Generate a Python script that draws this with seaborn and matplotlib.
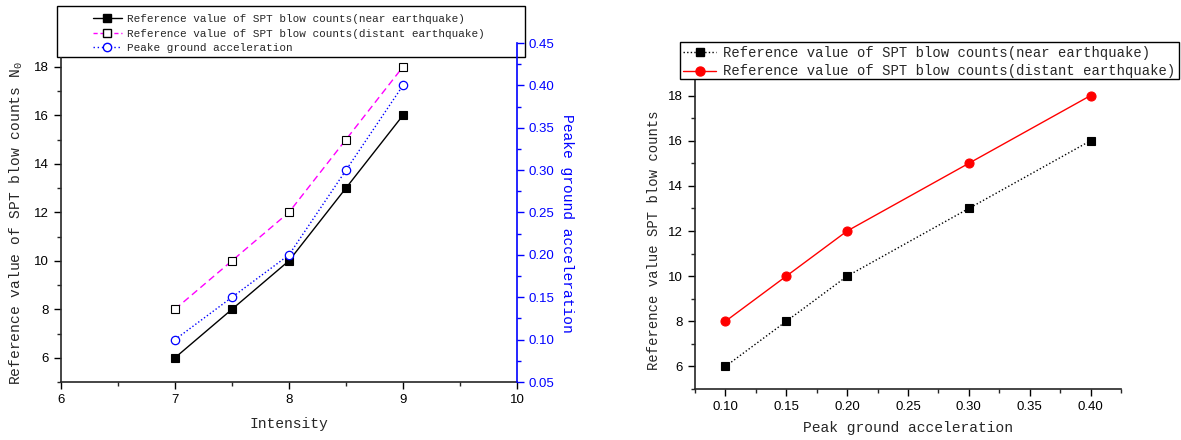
import matplotlib
matplotlib.use("Agg")
import matplotlib.pyplot as plt
import seaborn as sns
from matplotlib.ticker import MultipleLocator, FormatStrFormatter
from matplotlib.lines import Line2D
from matplotlib.patches import Rectangle

# ---- data ----
intensity = [7, 7.5, 8, 8.5, 9]
near_counts = [6, 8, 10, 13, 16]
distant_counts = [8, 10, 12, 15, 18]
pga = [0.10, 0.15, 0.20, 0.30, 0.40]

lbl_near = "Reference value of SPT blow counts(near earthquake)"
lbl_dist = "Reference value of SPT blow counts(distant earthquake)"
lbl_pga = "Peake ground acceleration"

sns.set_style("ticks")
plt.rcParams['font.family'] = ['Liberation Sans', 'DejaVu Sans']
plt.rcParams['mathtext.fontset'] = 'custom'
plt.rcParams['mathtext.rm'] = 'Liberation Mono'
plt.rcParams['mathtext.it'] = 'Liberation Mono'
MONO = ['Liberation Mono', 'DejaVu Sans Mono']

W, H = 1181, 440
fig = plt.figure(figsize=(W / 100, H / 100), dpi=100)

def frac(l, r, t, b):
    return [l / W, 1 - b / H, (r - l) / W, (b - t) / H]

DASH = (0, (5, 3))
DOT = (0, (1, 1.6))

# legend frame of left chart (drawn behind the axes)
fig.patches.append(Rectangle((57 / W, 1 - 57 / H), (525 - 57) / W, (57 - 6) / H,
                             transform=fig.transFigure, facecolor='white',
                             edgecolor='black', lw=1.0, zorder=-1))

# ---------------- left chart ----------------
ax1 = fig.add_axes(frac(61, 517, 43, 382))
ax1.set_facecolor('none')
ax2 = ax1.twinx()

sns.lineplot(x=intensity, y=near_counts, ax=ax1, color='black', lw=1.0,
             marker='s', markersize=6, markerfacecolor='black',
             markeredgecolor='black', markeredgewidth=0.8)
sns.lineplot(x=intensity, y=distant_counts, ax=ax1, color='#FF00FF', lw=1.0,
             linestyle=DASH, marker='s', markersize=5.5,
             markerfacecolor='white', markeredgecolor='black', markeredgewidth=0.8)
sns.lineplot(x=intensity, y=pga, ax=ax2, color='#0000FF', lw=1.0,
             linestyle=DOT, marker='o', markersize=6,
             markerfacecolor='white', markeredgecolor='#0000FF', markeredgewidth=0.9)

ax1.set_xlim(6, 10)
ax1.set_ylim(5, 18.98)
ax2.set_ylim(0.05, 0.45)
ax1.xaxis.set_major_locator(MultipleLocator(1))
ax1.xaxis.set_minor_locator(MultipleLocator(0.5))
ax1.yaxis.set_major_locator(MultipleLocator(2))
ax1.yaxis.set_minor_locator(MultipleLocator(1))
ax2.yaxis.set_major_locator(MultipleLocator(0.05))
ax2.yaxis.set_minor_locator(MultipleLocator(0.025))
ax2.yaxis.set_major_formatter(FormatStrFormatter('%.2f'))

for a in (ax1, ax2):
    a.spines['top'].set_visible(False)
    for s in a.spines.values():
        s.set_linewidth(1.2)
ax1.spines['right'].set_visible(False)
ax1.spines['left'].set_bounds(5, 18.37)
ax2.spines['left'].set_visible(False)
ax2.spines['bottom'].set_visible(False)
ax2.spines['right'].set_color('#0000FF')

ax1.tick_params(axis='both', which='major', direction='out', length=5, width=1,
                labelsize=9.5, colors='black')
ax1.tick_params(axis='both', which='minor', direction='out', length=3, width=1)
ax2.tick_params(axis='y', which='major', direction='out', length=5, width=1,
                labelsize=9.5, colors='#0000FF')
ax2.tick_params(axis='y', which='minor', direction='out', length=3, width=1,
                colors='#0000FF')

ax1.set_xlabel("Intensity", family=MONO, fontsize=10.5, labelpad=8)
ax1.set_ylabel(r"Reference value of SPT blow counts N$_0$", family=MONO,
               fontsize=10.5, labelpad=6.5)
ax1.yaxis.label.set_y(0.469)
ax2.set_ylabel(lbl_pga, family=MONO, fontsize=10.5, color='#0000FF',
               rotation=270, labelpad=14)
ax2.yaxis.label.set_y(0.4676)
ax1.grid(False)
ax2.grid(False)

h1 = [Line2D([], [], color='black', lw=1, marker='s', ms=6, mfc='black', mec='black'),
      Line2D([], [], color='#FF00FF', lw=1, ls=(0, (3, 2)), marker='s', ms=5.5,
             mfc='white', mec='black'),
      Line2D([], [], color='#0000FF', lw=1, ls=(0, (1, 2)), marker='o', ms=6,
             mfc='white', mec='#0000FF')]
leg1 = fig.legend(h1, [lbl_near, lbl_dist, lbl_pga], loc='upper left',
                  bbox_to_anchor=(93 / W, 1 - 14 / H), borderaxespad=0,
                  prop={'family': MONO, 'size': 7.9}, frameon=False,
                  handlelength=2.6, handletextpad=0.5, labelspacing=0.42,
                  borderpad=0.0)
leg1.set_zorder(-0.5)

# ---------------- right chart ----------------
ax3 = fig.add_axes(frac(695, 1121, 73, 389))
sns.lineplot(x=pga, y=near_counts, ax=ax3, color='black', lw=1.0,
             linestyle=DOT, marker='s', markersize=6,
             markerfacecolor='black', markeredgecolor='black', markeredgewidth=0.8)
sns.lineplot(x=pga, y=distant_counts, ax=ax3, color='#FF0000', lw=1.0,
             marker='o', markersize=6.5, markerfacecolor='#FF0000',
             markeredgecolor='#FF0000', markeredgewidth=0.8)
ax3.set_xlim(0.075, 0.425)
ax3.set_ylim(5, 19)
ax3.xaxis.set_major_locator(MultipleLocator(0.05))
ax3.xaxis.set_minor_locator(MultipleLocator(0.025))
ax3.xaxis.set_major_formatter(FormatStrFormatter('%.2f'))
ax3.yaxis.set_major_locator(MultipleLocator(2))
ax3.yaxis.set_minor_locator(MultipleLocator(1))
ax3.spines['top'].set_visible(False)
ax3.spines['right'].set_visible(False)
for s in ax3.spines.values():
    s.set_linewidth(1.2)
ax3.tick_params(axis='both', which='major', direction='out', length=5, width=1,
                labelsize=9.5, colors='black')
ax3.tick_params(axis='both', which='minor', direction='out', length=3, width=1)
ax3.set_xticks([0.10, 0.15, 0.20, 0.25, 0.30, 0.35, 0.40])
ax3.set_xlabel("Peak ground acceleration", family=MONO, fontsize=10.5, labelpad=6)
ax3.set_ylabel("Reference value SPT blow counts", family=MONO, fontsize=10,
               labelpad=5)
ax3.yaxis.label.set_y(0.4715)
ax3.grid(False)

h2 = [Line2D([], [], color='black', lw=1, ls=DOT, marker='s', ms=6,
             mfc='black', mec='black'),
      Line2D([], [], color='#FF0000', lw=1, marker='o', ms=6.5,
             mfc='#FF0000', mec='#FF0000')]
leg2 = fig.legend(h2, [lbl_near, lbl_dist], loc='upper left',
                  bbox_to_anchor=(683 / W, 1 - 46 / H), borderaxespad=0,
                  prop={'family': MONO, 'size': 10}, frameon=False,
                  handlelength=2.4, handletextpad=0.5, labelspacing=0.32,
                  borderpad=0.0)
fig.patches.append(Rectangle((680 / W, 1 - 79 / H), (1179 - 680) / W, (79 - 42) / H,
                             transform=fig.transFigure, facecolor='white',
                             edgecolor='black', lw=1.0, zorder=5))
leg2.set_zorder(6)

fig.savefig("out.png", dpi=100)
